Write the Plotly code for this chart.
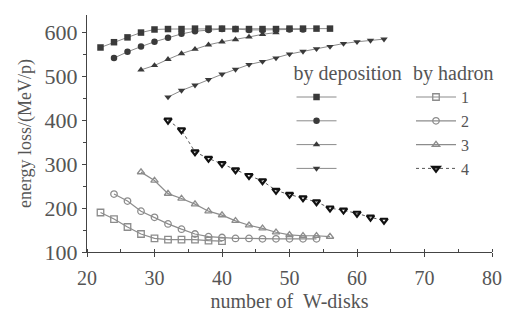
import plotly.graph_objects as go

# x values (number of W-disks)
x_dep1 = [22, 24, 26, 28, 30, 32, 34, 36, 38, 40, 42, 44, 46, 48, 50, 52, 54, 56]
y_dep1 = [566, 578, 589, 600, 607, 608, 608, 609, 609, 609, 608, 608, 608, 608, 609, 609, 609, 609]
x_dep2 = [24, 26, 28, 30, 32, 34, 36, 38, 40, 42, 44, 46, 48, 50, 52]
y_dep2 = [542, 556, 568, 579, 588, 597, 603, 606, 608, 608, 606, 606, 607, 607, 607]
x_dep3 = [28, 30, 32, 34, 36, 38, 40, 42, 44, 46, 48]
y_dep3 = [515, 525, 539, 552, 562, 572, 579, 584, 590, 596, 600]
x_dep4 = [32, 34, 36, 38, 40, 42, 44, 46, 48, 50, 52, 54, 56, 58, 60, 62, 64]
y_dep4 = [453, 468, 480, 493, 505, 516, 527, 534, 542, 551, 557, 563, 568, 575, 579, 582, 585]

x_had1 = [22, 24, 26, 28, 30, 32, 34, 36, 38, 40]
y_had1 = [190, 175, 157, 141, 131, 128, 128, 128, 126, 125]
x_had2 = [24, 26, 28, 30, 32, 34, 36, 38, 40, 42, 44, 46, 48, 50, 52, 54]
y_had2 = [232, 216, 193, 179, 164, 152, 141, 135, 133, 131, 131, 130, 130, 130, 130, 130]
x_had3 = [28, 30, 32, 34, 36, 38, 40, 42, 44, 46, 48, 50, 52, 54, 56]
y_had3 = [282, 263, 233, 222, 209, 193, 184, 171, 161, 154, 145, 139, 137, 137, 135]
x_had4 = [32, 34, 36, 38, 40, 42, 44, 46, 48, 50, 52, 54, 56, 58, 60, 62, 64]
y_had4 = [400, 378, 328, 313, 301, 287, 274, 262, 240, 231, 223, 214, 200, 195, 188, 179, 172]

had_labels = ["1", "2", "3", "4"]
x_ticks = [20, 30, 40, 50, 60, 70, 80]
y_ticks = [100, 200, 300, 400, 500, 600]

FONT = "Liberation Serif"
TXT = "#555555"

fig = go.Figure()

dep = [(x_dep1, y_dep1, "square"), (x_dep2, y_dep2, "circle"),
       (x_dep3, y_dep3, "triangle-up"), (x_dep4, y_dep4, "triangle-down")]
for i, (xs, ys, sym) in enumerate(dep):
    fig.add_trace(go.Scatter(
        x=xs, y=ys, mode="lines+markers", name=" ",
        line=dict(color="#8a8a8a", width=1),
        marker=dict(symbol=sym, size=6.5, color="#3a3a3a", line=dict(width=0)),
        legend="legend", legendrank=i,
    ))

had = [(x_had1, y_had1, "square-open", "#8c8c8c", "solid", 1.2),
       (x_had2, y_had2, "circle-open", "#8c8c8c", "solid", 1.2),
       (x_had3, y_had3, "triangle-up-open", "#8c8c8c", "solid", 1.2),
       (x_had4, y_had4, "triangle-down-open", "#111111", "dot", 1)]
for i, (xs, ys, sym, col, dash, lw) in enumerate(had):
    fig.add_trace(go.Scatter(
        x=xs, y=ys, mode="lines+markers", name=had_labels[i],
        line=dict(color=col if i < 3 else "#555555", width=lw, dash=dash),
        marker=dict(symbol=sym, size=6.5, color=col,
                    line=dict(width=1.3 if i < 3 else 2.2, color=col)),
        legend="legend2", legendrank=i,
    ))

fig.update_layout(
    width=508, height=312,
    margin=dict(l=87, r=13, t=15, b=60),
    paper_bgcolor="white", plot_bgcolor="white",
    font=dict(family=FONT, size=20, color=TXT),
    showlegend=True,
    legend=dict(
        title=dict(text="by deposition", font=dict(size=20, color=TXT)),
        x=0.505, y=0.835, xanchor="left", yanchor="top",
        bgcolor="rgba(0,0,0,0)", font=dict(size=16, color=TXT),
        itemwidth=40, tracegroupgap=0,
    ),
    legend2=dict(
        title=dict(text="by hadron", font=dict(size=20, color=TXT)),
        x=0.80, y=0.835, xanchor="left", yanchor="top",
        bgcolor="rgba(0,0,0,0)", font=dict(size=16, color=TXT),
        itemwidth=40, tracegroupgap=0,
    ),
)

fig.update_xaxes(
    range=[20, 80], tickvals=x_ticks, automargin=False,
    showline=True, linecolor="#444444", linewidth=1.2,
    ticks="outside", ticklen=4, tickcolor="#444444", ticklabelstandoff=4,
    minor=dict(dtick=5, ticks="inside", ticklen=3, tickcolor="#444444"),
    showgrid=False, zeroline=False,
    title=dict(text="number of  W-disks", font=dict(size=20, color=TXT), standoff=5),
    tickfont=dict(size=20, color=TXT),
)
fig.update_yaxes(
    range=[100, 640], tickvals=y_ticks, automargin=False,
    showline=True, linecolor="#444444", linewidth=1.2,
    ticks="outside", ticklen=4, tickcolor="#444444",
    minor=dict(dtick=50, ticks="outside", ticklen=3, tickcolor="#444444"),
    showgrid=False, zeroline=False,
    title=dict(text="energy loss/(MeV/p)", font=dict(size=18, color=TXT), standoff=8),
    tickfont=dict(size=22, color=TXT),
)

fig.write_html("out.html", config={"displayModeBar": False},
               post_script="document.body.style.margin='0';")
